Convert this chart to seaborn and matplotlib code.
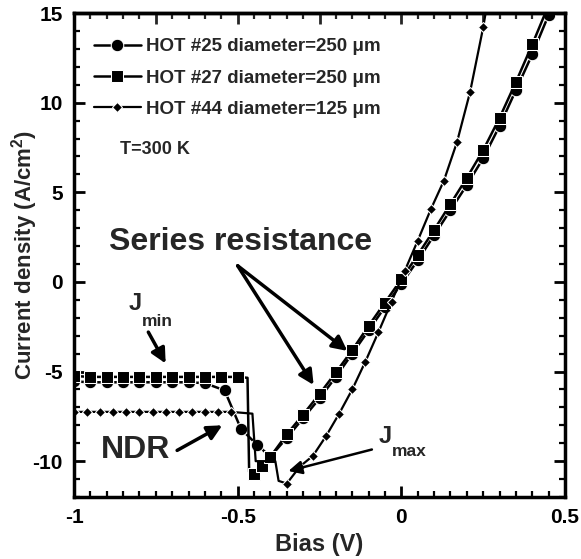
import numpy as np
import pandas as pd
import matplotlib
matplotlib.use('Agg')
import matplotlib.pyplot as plt
import seaborn as sns
from matplotlib.ticker import MultipleLocator

# dados (Bias em V, densidade de corrente em A/cm2)
bias_25 = [-1.00, -0.95, -0.90, -0.85, -0.80, -0.75, -0.70, -0.65, -0.60,
           -0.54, -0.49, -0.44, -0.40, -0.35, -0.30, -0.25, -0.20, -0.15,
           -0.10, -0.05, 0.00, 0.05, 0.10, 0.15, 0.20, 0.25, 0.30, 0.35,
           0.40, 0.45, 0.50]
j_25 = [-5.55, -5.6, -5.6, -5.6, -5.6, -5.6, -5.6, -5.6, -5.65,
        -6.05, -8.2, -9.1, -9.75, -8.7, -7.6, -6.5, -5.3, -4.0,
        -2.7, -1.4, -0.1, 1.2, 2.6, 4.0, 5.4, 6.9, 8.7, 10.7,
        12.7, 14.9, 17.1]

bias_27 = [-1.00, -0.95, -0.90, -0.85, -0.80, -0.75, -0.70, -0.65, -0.60,
           -0.55, -0.50, -0.47, -0.465, -0.45, -0.425, -0.40, -0.35, -0.30,
           -0.25, -0.20, -0.15, -0.10, -0.05, 0.00, 0.05, 0.10, 0.15, 0.20,
           0.25, 0.30, 0.35, 0.40, 0.45, 0.50]
j_27 = [-5.25, -5.3, -5.3, -5.3, -5.3, -5.3, -5.3, -5.3, -5.3,
        -5.3, -5.3, -5.35, -10.6, -10.7, -10.25, -9.75, -8.5, -7.4,
        -6.25, -5.05, -3.8, -2.45, -1.15, 0.15, 1.5, 2.9, 4.35, 5.8,
        7.35, 9.15, 11.15, 13.25, 15.45, 17.6]

bias_44 = [-1.00, -0.96, -0.92, -0.88, -0.84, -0.80, -0.76, -0.72, -0.68,
           -0.64, -0.60, -0.56, -0.52, -0.455, -0.445, -0.385, -0.375, -0.35,
           -0.31, -0.27, -0.23, -0.19, -0.15, -0.11, -0.07, -0.03, 0.01,
           0.05, 0.09, 0.13, 0.17, 0.21, 0.25, 0.29]
j_44 = [-7.25, -7.25, -7.25, -7.25, -7.25, -7.25, -7.25, -7.25, -7.25,
        -7.25, -7.25, -7.25, -7.25, -7.35, -10.0, -10.0, -11.1, -11.25,
        -10.3, -9.7, -8.6, -7.35, -6.0, -4.45, -2.8, -1.1, 0.6,
        2.3, 4.05, 5.65, 7.8, 10.6, 14.2, 18.5]

labels = ['HOT #25 diameter=250 \u03bcm', 'HOT #27 diameter=250 \u03bcm',
          'HOT #44 diameter=125 \u03bcm']

sns.set_theme(style='ticks')
plt.rcParams['font.family'] = ['Liberation Sans', 'DejaVu Sans']
plt.rcParams['font.weight'] = 'bold'
plt.rcParams['axes.labelweight'] = 'bold'
plt.rcParams['mathtext.fontset'] = 'custom'
plt.rcParams['mathtext.bf'] = 'Liberation Sans:bold'
plt.rcParams['mathtext.rm'] = 'Liberation Sans:bold'
plt.rcParams['mathtext.default'] = 'bf'

fig = plt.figure(figsize=(5.81, 5.59), dpi=100)
ax = fig.add_axes([0.1274, 0.1109, 0.8451, 0.8658])

df25 = pd.DataFrame({'bias': bias_25, 'j': j_25})
df27 = pd.DataFrame({'bias': bias_27, 'j': j_27})
df44 = pd.DataFrame({'bias': bias_44, 'j': j_44})

# sem marcador no topo e no fundo do degrau vertical
marcas_27 = [i for i in range(len(bias_27)) if i not in (11, 12)]
marcas_44 = [i for i in range(len(bias_44)) if i not in (13, 14, 15, 16)]

sns.lineplot(data=df25, x='bias', y='j', ax=ax, color='black', lw=1.8,
             marker='o', markersize=9, estimator=None, sort=False,
             label=labels[0])
sns.lineplot(data=df27, x='bias', y='j', ax=ax, color='black', lw=1.8,
             marker='s', markersize=8.5, estimator=None, sort=False,
             markevery=marcas_27, label=labels[1])
sns.lineplot(data=df44, x='bias', y='j', ax=ax, color='black', lw=1.6,
             marker='D', markersize=5, estimator=None, sort=False,
             markevery=marcas_44, label=labels[2])

ax.set_xlim(-1, 0.5)
ax.set_ylim(-12, 15)
ax.set_xticks([-1, -0.5, 0, 0.5])
ax.set_xticklabels(['-1', '-0.5', '0', '0.5'])
ax.set_yticks([-10, -5, 0, 5, 10, 15])
ax.set_yticklabels(['-10', '-5', '0', '5', '10', '15'])
ax.xaxis.set_minor_locator(MultipleLocator(0.05))
ax.yaxis.set_minor_locator(MultipleLocator(1))
ax.tick_params(which='both', direction='in', right=True, labelsize=15,
               pad=8, color='black', labelcolor='black')
ax.tick_params(which='major', length=8, width=2)
ax.tick_params(which='minor', length=4, width=1.6)

top = ax.secondary_xaxis('top')
top.set_xticks(np.arange(-1, 0.51, 0.25))
top.xaxis.set_minor_locator(MultipleLocator(0.05))
top.tick_params(which='both', direction='in', labeltop=False)
top.tick_params(which='major', length=8, width=2)
top.tick_params(which='minor', length=4, width=1.6)
top.spines['top'].set_linewidth(2.5)

for s in ax.spines.values():
    s.set_linewidth(2.5)
    s.set_color('black')

ax.set_xlabel('Bias (V)', fontsize=17, labelpad=4)
ax.set_ylabel('Current density (A/cm$^2$)', fontsize=16)
ax.yaxis.set_label_coords(-0.07, 0.5)

ax.legend(loc='upper left', bbox_to_anchor=(0.04, 0.948), frameon=False,
          fontsize=13.5, handlelength=2.5, handletextpad=0.3,
          labelspacing=0.75, borderpad=0, borderaxespad=0)

ax.text(-0.86, 7.4, 'T=300 K', fontsize=13, va='center', ha='left')
ax.text(-0.49, 2.2, 'Series resistance', fontsize=23, va='center', ha='center')
ax.text(-0.813, -1.2, 'J', fontsize=17, va='center', ha='center')
ax.text(-0.746, -2.2, 'min', fontsize=12.5, va='center', ha='center')
ax.text(-0.813, -9.4, 'NDR', fontsize=23, va='center', ha='center')
ax.text(-0.048, -8.6, 'J', fontsize=17, va='center', ha='center')
ax.text(0.025, -9.45, 'max', fontsize=12.5, va='center', ha='center')

arrow = dict(arrowstyle='-|>', color='black', lw=2.5, mutation_scale=22,
             shrinkA=0, shrinkB=0)
ax.annotate('', xy=(-0.165, -3.85), xytext=(-0.50, 0.9), arrowprops=arrow)
ax.annotate('', xy=(-0.268, -5.75), xytext=(-0.50, 0.9), arrowprops=arrow)
ax.annotate('', xy=(-0.72, -4.55), xytext=(-0.773, -2.8), arrowprops=arrow)
ax.annotate('', xy=(-0.547, -8.0), xytext=(-0.685, -9.4), arrowprops=arrow)
ax.annotate('', xy=(-0.345, -10.55), xytext=(-0.09, -9.35),
            arrowprops=dict(arrowstyle='-|>', color='black', lw=1.8,
                            mutation_scale=20, shrinkA=0, shrinkB=0))

fig.savefig('out.png', dpi=100)
